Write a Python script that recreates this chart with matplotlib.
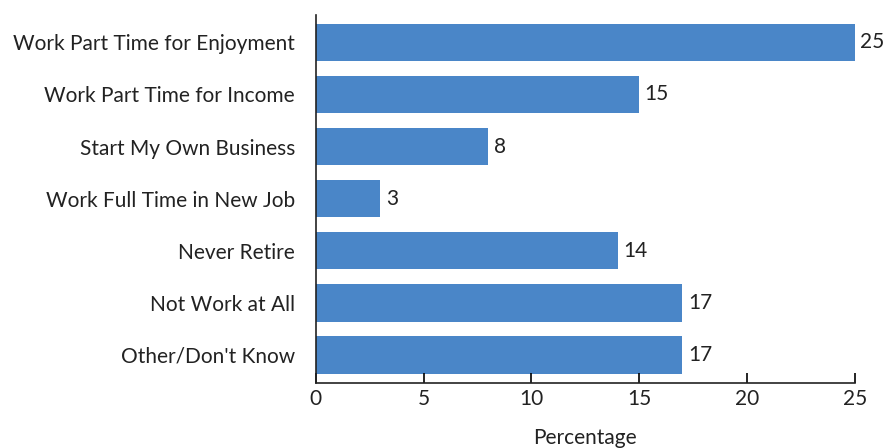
import matplotlib
matplotlib.use("Agg")
import matplotlib.pyplot as plt

categories = ["Work Part Time for Enjoyment", "Work Part Time for Income", "Start My Own Business",
              "Work Full Time in New Job", "Never Retire", "Not Work at All", "Other/Don't Know"]
values = [25, 15, 8, 3, 14, 17, 17]
xticks = [0, 5, 10, 15, 20, 25]

plt.rcParams['font.family'] = ['Lato', 'DejaVu Sans']

fig = plt.figure(figsize=(8.87, 4.48), dpi=100)
ax = fig.add_axes([0.356, 0.145, 0.608, 0.822])
color = "#4a86c8"
y = list(range(len(categories)))
ax.barh(y, values, height=0.72, color=color)
ax.set_ylim(6.54, -0.53)
ax.set_xlim(0, 25)
ax.set_yticks(y)
ax.set_yticklabels(categories, fontsize=15, color="#222222")
ax.set_xticks(xticks)
ax.set_xticklabels([str(t) for t in xticks], fontsize=15, color="#222222")
ax.tick_params(axis='x', direction='in', length=7, width=1.2, pad=4)
ax.tick_params(axis='y', length=0, pad=15)
for s in ['top', 'right']:
    ax.spines[s].set_visible(False)
for s in ['left', 'bottom']:
    ax.spines[s].set_linewidth(1.2)
    ax.spines[s].set_color("#222222")
for yi, v in zip(y, values):
    ax.text(v + 0.25, yi, str(v), va='center', ha='left', fontsize=15, color="#222222")
ax.set_xlabel("Percentage", fontsize=15, color="#222222", labelpad=14)
fig.savefig("out.png", dpi=100)
